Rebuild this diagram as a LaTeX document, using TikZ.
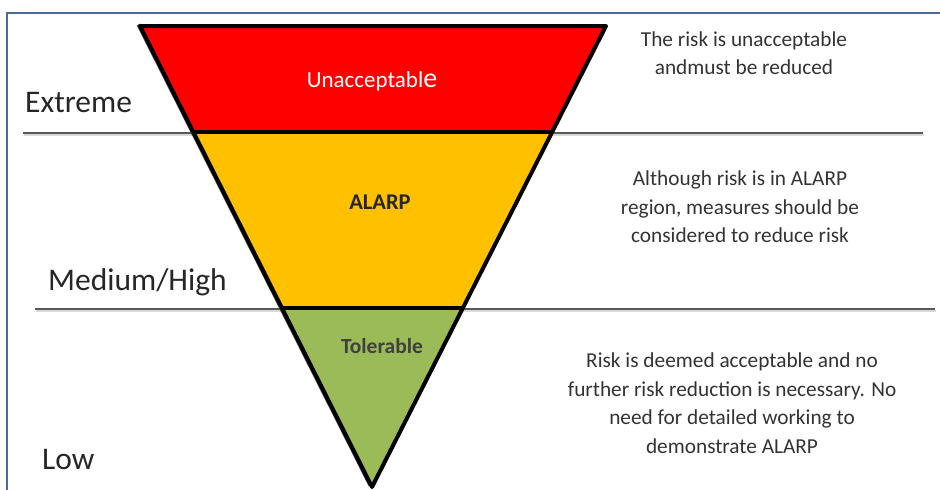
\documentclass[tikz,border=0pt]{standalone}
\usepackage{fontspec}
\setmainfont{Carlito}
\definecolor{frameblue}{HTML}{4A6B9A}
\definecolor{redband}{HTML}{FF0000}
\definecolor{orangeband}{HTML}{FFC000}
\definecolor{greenband}{HTML}{9BBB59}
\definecolor{txtgray}{HTML}{333333}
\begin{document}
\begin{tikzpicture}[x=1pt,y=-1pt,
  levellabel/.style={anchor=base west,inner sep=0pt,text=black!85,font=\fontsize{31.5}{36}\selectfont},
  desc/.style={align=center,inner sep=0pt,text=txtgray,font=\fontsize{21.3}{28.5}\selectfont},
  bandlabel/.style={anchor=base,inner sep=0pt},
  divider/.style={draw=black!65,line width=2pt},
  dividershadow/.style={draw=black!15,line width=2.5pt},
  outline/.style={draw=black,line width=4pt,line join=round}]
\useasboundingbox (0,0) rectangle (940,490);
% frame
\draw[frameblue,line width=2.5pt] (940,13) -- (7,13) -- (7,490);
% divider lines
\draw[dividershadow] (24,135) -- (924,135);
\draw[divider] (23,133) -- (923,133);
\draw[dividershadow] (36,311) -- (936,311);
\draw[divider] (35,309) -- (935,309);
% bands
\coordinate (tl) at (140,26);
\coordinate (tr) at (606,26);
\coordinate (ml1) at (193.5,132);
\coordinate (mr1) at (551.6,132);
\coordinate (ml2) at (281.5,308);
\coordinate (mr2) at (462,308);
\coordinate (apex) at (372,487);
\fill[redband] (tl) -- (tr) -- (mr1) -- (ml1) -- cycle;
\fill[orangeband] (ml1) -- (mr1) -- (mr2) -- (ml2) -- cycle;
\fill[greenband] (ml2) -- (mr2) -- (apex) -- cycle;
\draw[black!70,line width=4pt,line join=round] ([xshift=-1.5pt,yshift=1.5pt]tl) -- ([xshift=-1.5pt,yshift=1.5pt]apex);
\draw[outline] (tl) -- (tr) -- (apex) -- cycle;
\draw[outline] (ml1) -- (mr1);
\draw[outline] (ml2) -- (mr2);
% band labels
\node[bandlabel,text=white,font=\fontsize{23}{26}\selectfont] (unacc) at (372,87) {Unacceptabl{\fontsize{28}{30}\selectfont e}};
\node[bandlabel,text=black!85,font=\fontsize{22.5}{26}\selectfont\bfseries] (alarp) at (380,209) {ALARP};
\node[bandlabel,text=black!75,font=\fontsize{21.5}{26}\selectfont\bfseries] (tol) at (382,353) {Tolerable};
% level labels
\node[levellabel] (extreme) at (25,112) {Extreme};
\node[levellabel] (medhigh) at (48,290) {Medium/High};
\node[levellabel] (low) at (42,469) {Low};
% descriptions
\node[desc] (d1) at (744,53) {The risk is unacceptable\\andmust be reduced};
\node[desc] (d2) at (740,207) {Although risk is in ALARP\\region, measures should be\\considered to reduce risk};
\node[desc] (d3) at (732,403) {Risk is deemed acceptable and no\\further risk reduction is necessary. No\\need for detailed working to\\demonstrate ALARP};
\end{tikzpicture}
\end{document}
